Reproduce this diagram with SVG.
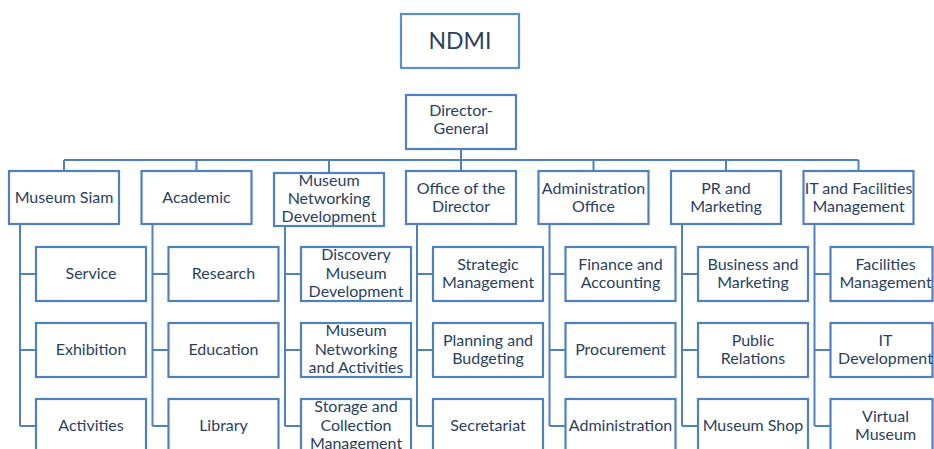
<svg xmlns="http://www.w3.org/2000/svg" width="934" height="449" viewBox="0 0 934 449">
  <style>
    .box { fill: #ffffff; stroke: #4f81bd; stroke-width: 2.2; }
    .top { fill: #ffffff; stroke: #5b8fd4; stroke-width: 2.2; }
    .wire { fill: none; stroke: #4f81bd; stroke-width: 2; }
    text { font-family: Lato, "Open Sans", sans-serif; font-size: 16px; fill: #2a3f5f; text-anchor: middle; }
    .title { font-size: 23px; }
  </style>
  <rect width="934" height="449" fill="#ffffff"/>

  <!-- connectors -->
  <g id="connectors" class="wire">
    <path d="M461 149V160M64 160H858.5"/>
    <path d="M64 160V171M196.5 160V171M329 160V173M461 160V171M593.5 160V171M726 160V171M858.5 160V171"/>
    <!-- child spines and branches -->
    <path d="M20 224V426M20 274H36M20 350H36M20 426H36"/>
    <path d="M152.5 224V426M152.5 274H168.5M152.5 350H168.5M152.5 426H168.5"/>
    <path d="M285 226V426M285 274H301M285 350H301M285 426H301"/>
    <path d="M417 224V426M417 274H433M417 350H433M417 426H433"/>
    <path d="M549.5 224V426M549.5 274H565.5M549.5 350H565.5M549.5 426H565.5"/>
    <path d="M682 224V426M682 274H698M682 350H698M682 426H698"/>
    <path d="M814.5 224V426M814.5 274H830.5M814.5 350H830.5M814.5 426H830.5"/>
  </g>

  <!-- top -->
  <g id="ndmi">
    <rect class="top" x="401" y="14" width="118" height="54"/>
    <text class="title" x="460" y="49">NDMI</text>
  </g>
  <g id="director-general">
    <rect class="box" x="406" y="95" width="110" height="54"/>
    <text x="461" y="116">Director-</text>
    <text x="461" y="134.3">General</text>
  </g>

  <!-- level 1 -->
  <g id="museum-siam">
    <rect class="box" x="9" y="171" width="110" height="53"/>
    <text x="64" y="203">Museum Siam</text>
  </g>
  <g id="academic">
    <rect class="box" x="141.5" y="171" width="110" height="53"/>
    <text x="196.5" y="203">Academic</text>
  </g>
  <g id="museum-networking-development">
    <rect class="box" x="274" y="173" width="110" height="53"/>
    <text x="329" y="185.5">Museum</text>
    <text x="329" y="204">Networking</text>
    <text x="329" y="222">Development</text>
  </g>
  <g id="office-of-the-director">
    <rect class="box" x="406" y="171" width="110" height="53"/>
    <text x="461" y="194">Office of the</text>
    <text x="461" y="212.3">Director</text>
  </g>
  <g id="administration-office">
    <rect class="box" x="538.5" y="171" width="110" height="53"/>
    <text x="593.5" y="194">Administration</text>
    <text x="593.5" y="212.3">Office</text>
  </g>
  <g id="pr-and-marketing">
    <rect class="box" x="671" y="171" width="110" height="53"/>
    <text x="726" y="194">PR and</text>
    <text x="726" y="212.3">Marketing</text>
  </g>
  <g id="it-and-facilities-management">
    <rect class="box" x="803.5" y="171" width="110" height="53"/>
    <text x="858.5" y="194">IT and Facilities</text>
    <text x="858.5" y="212.3">Management</text>
  </g>

  <!-- Museum Siam units -->
  <g id="service">
    <rect class="box" x="36" y="247" width="110" height="54"/>
    <text x="91" y="279">Service</text>
  </g>
  <g id="exhibition">
    <rect class="box" x="36" y="323" width="110" height="54"/>
    <text x="91" y="355">Exhibition</text>
  </g>
  <g id="activities">
    <rect class="box" x="36" y="399" width="110" height="54"/>
    <text x="91" y="431">Activities</text>
  </g>

  <!-- Academic units -->
  <g id="research">
    <rect class="box" x="168.5" y="247" width="110" height="54"/>
    <text x="223.5" y="279">Research</text>
  </g>
  <g id="education">
    <rect class="box" x="168.5" y="323" width="110" height="54"/>
    <text x="223.5" y="355">Education</text>
  </g>
  <g id="library">
    <rect class="box" x="168.5" y="399" width="110" height="54"/>
    <text x="223.5" y="431">Library</text>
  </g>

  <!-- Museum Networking Development units -->
  <g id="discovery-museum-development">
    <rect class="box" x="301" y="247" width="110" height="54"/>
    <text x="356" y="260">Discovery</text>
    <text x="356" y="278.5">Museum</text>
    <text x="356" y="296.5">Development</text>
  </g>
  <g id="museum-networking-and-activities">
    <rect class="box" x="301" y="323" width="110" height="54"/>
    <text x="356" y="336">Museum</text>
    <text x="356" y="354.5">Networking</text>
    <text x="356" y="372.5">and Activities</text>
  </g>
  <g id="storage-and-collection-management">
    <rect class="box" x="301" y="399" width="110" height="54"/>
    <text x="356" y="412">Storage and</text>
    <text x="356" y="430.5">Collection</text>
    <text x="356" y="448.5">Management</text>
  </g>

  <!-- Office of the Director units -->
  <g id="strategic-management">
    <rect class="box" x="433" y="247" width="110" height="54"/>
    <text x="488" y="269.8">Strategic</text>
    <text x="488" y="288.2">Management</text>
  </g>
  <g id="planning-and-budgeting">
    <rect class="box" x="433" y="323" width="110" height="54"/>
    <text x="488" y="345.8">Planning and</text>
    <text x="488" y="364.2">Budgeting</text>
  </g>
  <g id="secretariat">
    <rect class="box" x="433" y="399" width="110" height="54"/>
    <text x="488" y="431">Secretariat</text>
  </g>

  <!-- Administration Office units -->
  <g id="finance-and-accounting">
    <rect class="box" x="565.5" y="247" width="110" height="54"/>
    <text x="620.5" y="269.8">Finance and</text>
    <text x="620.5" y="288.2">Accounting</text>
  </g>
  <g id="procurement">
    <rect class="box" x="565.5" y="323" width="110" height="54"/>
    <text x="620.5" y="355">Procurement</text>
  </g>
  <g id="administration">
    <rect class="box" x="565.5" y="399" width="110" height="54"/>
    <text x="620.5" y="431">Administration</text>
  </g>

  <!-- PR and Marketing units -->
  <g id="business-and-marketing">
    <rect class="box" x="698" y="247" width="110" height="54"/>
    <text x="753" y="269.8">Business and</text>
    <text x="753" y="288.2">Marketing</text>
  </g>
  <g id="public-relations">
    <rect class="box" x="698" y="323" width="110" height="54"/>
    <text x="753" y="345.8">Public</text>
    <text x="753" y="364.2">Relations</text>
  </g>
  <g id="museum-shop">
    <rect class="box" x="698" y="399" width="110" height="54"/>
    <text x="753" y="431">Museum Shop</text>
  </g>

  <!-- IT and Facilities Management units -->
  <g id="facilities-management">
    <rect class="box" x="830.5" y="247" width="102" height="54"/>
    <text x="885.5" y="269.8">Facilities</text>
    <text x="885.5" y="288.2">Management</text>
  </g>
  <g id="it-development">
    <rect class="box" x="830.5" y="323" width="102" height="54"/>
    <text x="885.5" y="345.8">IT</text>
    <text x="885.5" y="364.2">Development</text>
  </g>
  <g id="virtual-museum">
    <rect class="box" x="830.5" y="399" width="102" height="54"/>
    <text x="885.5" y="421.8">Virtual</text>
    <text x="885.5" y="440.2">Museum</text>
  </g>
</svg>
